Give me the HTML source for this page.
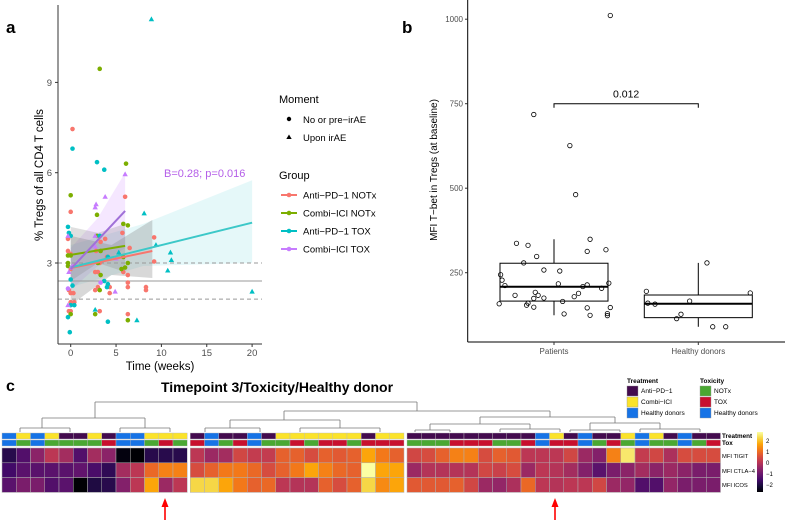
<!DOCTYPE html>
<html><head><meta charset="utf-8">
<style>
body{margin:0;background:#fff;}
svg{display:block;font-family:"Liberation Sans",Arial,sans-serif;}
</style></head>
<body>
<svg id="fig" width="785" height="520" viewBox="0 0 785 520"></svg>
<script>
// ---------- Panel a data ----------
const aGroups = ["Anti\u2212PD\u22121 NOTx","Combi\u2212ICI NOTx","Anti\u2212PD\u22121 TOX","Combi\u2212ICI TOX"];
const aColors = ["#F8766D","#7CAE00","#00BFC4","#C77CFF"];
const aXTicks = [0,5,10,15,20];
const aYTicks = [3,6,9];
const aRedPts = [[0.2,7.45],[0,4.7],[-0.3,3.8],[-0.3,3.4],[0,3.3],[0,2.8],[-0.2,2.1],[0,2.0],[0.3,2.0],[0,1.7],[0.4,1.7],[0,1.4],[-0.2,1.4],[2.8,3.4],[3.0,2.7],[2.7,2.7],[3.3,3.7],[3.8,3.8],[3.0,2.2],[2.7,2.1],[3.2,1.4],[4.0,3.2],[4.3,2.2],[4.3,2.0],[5.7,4.0],[6.0,5.2],[6.5,3.5],[6.3,2.6],[6.3,2.35],[6.3,2.2],[6.3,1.3],[5.8,2.7],[9.2,3.85],[9.2,3.05],[8.3,2.2],[8.3,2.1],[3.2,3.0]];
const aGreenPts = [[0,5.25],[0,3.25],[-0.3,3.25],[-0.3,2.9],[-0.3,3.0],[0,1.3],[3.2,9.45],[2.9,4.6],[2.9,3.9],[3.3,3.4],[3.0,3.0],[3.3,2.6],[3.2,2.1],[2.7,1.3],[5.8,4.3],[6.1,6.3],[6.3,4.25],[5.8,3.2],[5.6,2.8],[6.0,2.85],[6.3,3.0],[6.3,1.1]];
const aCyanPts = [[-0.3,4.2],[-0.2,4.0],[0,3.9],[0.2,6.8],[0,2.45],[0.2,2.25],[0,1.6],[0.4,1.6],[-0.3,1.2],[-0.1,0.7],[2.9,6.35],[3.7,6.1],[3.2,3.9],[4.1,3.2],[3.7,2.4],[4.1,2.3],[4.0,2.2],[4.1,1.05]];
const aCyanTri = [[8.9,11.1],[8.1,4.65],[9.4,3.6],[5.3,3.35],[11.0,3.35],[11.1,3.1],[10.7,2.75],[2.7,1.45],[7.3,1.1],[20,2.05]];
const aPurpleTri = [[6.0,5.95],[3.8,5.2],[2.8,4.95],[2.7,4.85],[2.7,3.9],[2.7,3.55],[5.0,3.15],[4.9,2.05],[-0.3,3.9],[-0.2,2.7],[0.2,2.9],[-0.3,1.6]];
const aPurplePts = [[-0.3,2.15],[0.1,2.85],[3.3,2.35]];
// regression lines [x0,y0,x1,y1]
const aFitRed = [0,2.83,9,3.4];
const aFitGreen = [0,3.27,6,3.57];
const aFitCyan = [0,2.85,20,4.34];
const aFitPurple = [0,2.8,6,4.73];
// bands: [x, lo, hi] triples
const aBandRed = [[0,1.6,3.9],[4.5,2.6,3.6],[9,2.5,4.43]];
const aBandGreen = [[0,2.4,4.2],[3,3.0,4.0],[6,2.7,4.3]];
const aBandCyan = [[0,2.2,3.6],[8,2.9,4.3],[20,3.0,5.75]];
const aBandPurple = [[0,2.1,3.5],[3,2.9,4.5],[6,3.5,6.0]];
const aHLines = [3.0,2.4,1.8];

// ---------- Panel b data ----------
const bCats = ["Patients","Healthy donors"];
const bYTicks = [250,500,750,1000];
const bBoxes = [[124,166,208.6,278,349],[90,117,158,184,279]];
const bPatVals = [1011,718,626,481,337,331,349,313,318,298,279,258,255,244,228,212,217,214,209,219,204,183,192,183,174,175,179,189,165,158,160,154,148,146,147,128,124,129,123];
const bPatJit = [0.39,-0.14,0.11,0.15,-0.26,-0.18,0.25,0.23,0.36,-0.12,-0.21,-0.07,0.04,-0.37,-0.36,-0.34,0.03,0.23,0.2,0.38,0.33,-0.27,-0.13,-0.11,-0.14,-0.07,0.14,0.17,0.06,-0.38,-0.18,-0.19,-0.14,0.23,0.39,0.07,0.25,0.37,0.37];
const bHDVals = [195,279,190,160,157,166,127,114,90,90];
const bHDJit = [-0.36,0.06,0.36,-0.35,-0.3,-0.06,-0.12,-0.15,0.1,0.19];
const bPValue = "0.012";

// ---------- Panel c data ----------
const cRows = ["MFI TIGIT","MFI CTLA\u22124","MFI ICOS"];
const cTIGIT = [-1.8,-1.3,-0.6,0,-0.3,-1.3,-0.3,-0.6,-2.4,-2.5,-1.8,-1.8,-1.8, 0,-0.4,-0.3,0.3,0.1,0.1,0.7,0.7,0.4,0.7,0.6,0.7,1.5,1,0.7, 0.3,0.4,0.7,1.1,1.1,0.4,0.7,0.6,0,0,0,0.3,-0.4,-0.7,1.1,2.2,0.1,0.3,-0.2,0.4,0.4,0.4];
const cCTLA4 = [-1.5,-1.2,-1.2,-1.2,-1.2,-1.1,-1.4,-1.7,-0.3,0,0.8,1.1,1.1, 0.4,0.7,1,1,0.8,0.4,0.7,1,1.5,1.1,0.8,0.7,2.8,1.5,1.5, -0.4,-0.1,-0.1,-0.1,-0.1,0.3,0.2,0.4,-0.4,0,-0.1,-0.3,-0.7,-1.2,-0.8,-0.6,-0.3,-0.6,-0.4,-0.6,-0.8,-0.8];
const cICOS = [-1.2,-0.8,-0.8,-1.3,-1.2,-2.5,-1.9,-1.8,-0.7,0,1.5,-0.4,0, 2,2,1.5,1,0.7,0.8,0,-0.1,-0.1,0.7,0.4,0.7,2,1.2,1.5, 0.6,0.6,0.6,0.7,0.3,-0.4,-0.5,-0.2,0.8,0,-0.1,0,0,0.3,-0.4,-0.5,-1.3,-1.3,-0.5,-0.8,-0.8,-0.8];
const cTreatment = "HCHCPPCPHHCCC"+"PHPPHPCCCCCCPCC"+"PPPPPPPPPHCPHPPCHCPHPP";
const cTox = "HNHNNNNTHHNTN"+"THNTHNNTNTTNTTT"+"NNNTTTNNTHTTHNTNHNNHNT";
const cBlockSizes = [13,15,22];
const cColorTicks = [2,1,0,-1,-2];

// ---------- helpers ----------
const NS="http://www.w3.org/2000/svg";
const svg=document.getElementById('fig');
function mk(tag,attrs,parent){const e=document.createElementNS(NS,tag);for(const k in attrs)e.setAttribute(k,attrs[k]);(parent||svg).appendChild(e);return e;}
function txt(s,attrs,parent){const e=mk('text',attrs,parent);e.textContent=s;return e;}

// ========== Panel a ==========
const ax=v=>70.7+v*9.07, ay=v=>263-(v-3)*30.1;
const ga=mk('g',{});


let t=txt('a',{x:6,y:33,'font-size':17,'font-weight':'bold'},ga);

function band(b,col,op,name){
  let pts=b.map(p=>ax(p[0])+','+ay(p[2])).concat(b.slice().reverse().map(p=>ax(p[0])+','+ay(p[1])));
  const e=mk('polygon',{points:pts.join(' '),fill:col,'fill-opacity':op},ga);
  
}
band(aBandCyan,'#00BFC4',0.1,'band-anti-pd1-tox');
band(aBandPurple,'#C77CFF',0.18,'band-combi-tox');
band(aBandRed,'#7f7f7f',0.3,'band-anti-pd1-notx');
band(aBandGreen,'#7f7f7f',0.25,'band-combi-notx');
aHLines.forEach((v,i)=>{
  const e=mk('line',{x1:58,x2:262,y1:ay(v),y2:ay(v),stroke:'#999','stroke-width':1,'stroke-dasharray':i===1?'':'4,3'},ga);
  
  
});
function pts(arr,col,shape,name){
  arr.forEach(p=>{
    let e;
    const x=ax(p[0]),y=ay(p[1]);
    if(shape==='c') e=mk('circle',{cx:x,cy:y,r:2.3,fill:col},ga);
    else e=mk('polygon',{points:`${x},${y-2.8} ${x-2.7},${y+2} ${x+2.7},${y+2}`,fill:col},ga);
    
    
  });
}
pts(aRedPts,aColors[0],'c','point-anti-pd1-notx');
pts(aGreenPts,aColors[1],'c','point-combi-notx');
pts(aCyanPts,aColors[2],'c','point-anti-pd1-tox');
pts(aCyanTri,aColors[2],'t','point-anti-pd1-tox-irae');
pts(aPurplePts,aColors[3],'c','point-combi-tox');
pts(aPurpleTri,aColors[3],'t','point-combi-tox-irae');
[[aFitRed,aColors[0],'fit-anti-pd1-notx'],[aFitGreen,aColors[1],'fit-combi-notx'],[aFitCyan,'#3cc8c8','fit-anti-pd1-tox'],[aFitPurple,'#a070d8','fit-combi-tox']].forEach(f=>{
  const d=f[0];
  const e=mk('line',{x1:ax(d[0]),y1:ay(d[1]),x2:ax(d[2]),y2:ay(d[3]),stroke:f[1],'stroke-width':2},ga);
  
});
let e=mk('line',{x1:58,y1:5,x2:58,y2:344,stroke:'#333','stroke-width':1},ga);

e=mk('line',{x1:58,y1:344,x2:262,y2:344,stroke:'#333','stroke-width':1},ga);

aYTicks.forEach(v=>{
  mk('line',{x1:55,x2:58,y1:ay(v),y2:ay(v),stroke:'#333'},ga);
  const l=txt(String(v),{x:52,y:ay(v)+3.5,'font-size':9.5,fill:'#4d4d4d','text-anchor':'end'},ga);
  
});
aXTicks.forEach(v=>{
  mk('line',{x1:ax(v),x2:ax(v),y1:344,y2:347,stroke:'#333'},ga);
  const l=txt(String(v),{x:ax(v),y:356,'font-size':9.5,fill:'#4d4d4d','text-anchor':'middle'},ga);
  
});
t=txt('Time (weeks)',{x:160,y:370,'font-size':11.5,'text-anchor':'middle'},ga);

t=txt('% Tregs of all CD4 T cells',{x:0,y:0,'font-size':11.5,'text-anchor':'middle',transform:'translate(43,175) rotate(-90)'},ga);

t=txt('B=0.28; p=0.016',{x:164,y:177,'font-size':11,fill:'#B45EE8'},ga);

t=txt('Moment',{x:279,y:103,'font-size':11},ga);
mk('circle',{cx:289,cy:119,r:2.2,fill:'#000'},ga);
t=txt('No or pre\u2212irAE',{x:303,y:123,'font-size':9.5},ga);
mk('polygon',{points:'289,134.5 286.3,139 291.7,139',fill:'#000'},ga);
t=txt('Upon irAE',{x:303,y:141,'font-size':9.5},ga);
t=txt('Group',{x:279,y:179,'font-size':11},ga);
aGroups.forEach((g,i)=>{
  const y=195+i*18;
  mk('line',{x1:281,x2:297,y1:y,y2:y,stroke:aColors[i],'stroke-width':2},ga);
  mk('circle',{cx:289,cy:y,r:2.3,fill:aColors[i]},ga);
  const l=txt(g,{x:303,y:y+3.5,'font-size':9.5},ga);
  
});

// ========== Panel b ==========
const bx=i=>554+i*144.3, by=v=>272.7-(v-250)*0.338;
const gb=mk('g',{});


t=txt('b',{x:402,y:33,'font-size':17,'font-weight':'bold'},gb);

bBoxes.forEach((b,i)=>{
  const cx=bx(i),hw=54;
  const g=mk('g',{},gb);
  
  
  mk('line',{x1:cx,x2:cx,y1:by(b[4]),y2:by(b[3]),stroke:'#000','stroke-width':1},g);
  mk('line',{x1:cx,x2:cx,y1:by(b[1]),y2:by(b[0]),stroke:'#000','stroke-width':1},g);
  mk('rect',{x:cx-hw,y:by(b[3]),width:2*hw,height:by(b[1])-by(b[3]),fill:'none',stroke:'#000','stroke-width':1},g);
  mk('line',{x1:cx-hw,x2:cx+hw,y1:by(b[2]),y2:by(b[2]),stroke:'#000','stroke-width':2},g);
});
function bpts(vals,jit,ci,name){
  vals.forEach((v,k)=>{
    const c=mk('circle',{cx:bx(ci)+jit[k]*144.3,cy:by(v),r:2.2,fill:'none',stroke:'#000','stroke-width':0.8},gb);
    
  });
}
bpts(bPatVals,bPatJit,0,'point-patient');
bpts(bHDVals,bHDJit,1,'point-healthy-donor');
e=mk('path',{d:`M${bx(0)},${by(750)+4} V${by(750)} H${bx(1)} V${by(750)+4}`,fill:'none',stroke:'#000','stroke-width':1},gb);

t=txt(bPValue,{x:(bx(0)+bx(1))/2,y:by(750)-6,'font-size':10.5,'text-anchor':'middle'},gb);

e=mk('line',{x1:467.7,y1:0,x2:467.7,y2:342,stroke:'#000','stroke-width':1},gb);

e=mk('line',{x1:467.7,y1:342,x2:785,y2:342,stroke:'#000','stroke-width':1},gb);

bYTicks.forEach(v=>{
  mk('line',{x1:465,x2:467.7,y1:by(v),y2:by(v),stroke:'#333'},gb);
  const l=txt(String(v),{x:463,y:by(v)+3,'font-size':8,fill:'#4d4d4d','text-anchor':'end'},gb);
  
});
bCats.forEach((c,i)=>{
  mk('line',{x1:bx(i),x2:bx(i),y1:342,y2:345,stroke:'#333'},gb);
  const l=txt(c,{x:bx(i),y:354,'font-size':8,fill:'#4d4d4d','text-anchor':'middle'},gb);
  
});
t=txt('MFI T\u2212bet in Tregs (at baseline)',{x:0,y:0,'font-size':10,'text-anchor':'middle',transform:'translate(437,170) rotate(-90)'},gb);


// ========== Panel c ==========
const gc=mk('g',{});


t=txt('c',{x:6,y:391,'font-size':16,'font-weight':'bold'},gc);

t=txt('Timepoint 3/Toxicity/Healthy donor',{x:277,y:392,'font-size':14,'font-weight':'bold','text-anchor':'middle'},gc);

const inf=['#000004','#160b39','#420a68','#6a176e','#932667','#bc3754','#dd513a','#f37819','#fca50a','#f6d746','#fcffa4'];
function hex(h){return [1,3,5].map(i=>parseInt(h.substr(i,2),16));}
function cmap(v){let tt=(v+2.5)/5.0;tt=Math.max(0,Math.min(1,tt));const s=tt*10,i=Math.min(9,Math.floor(s)),f=s-i;const a=hex(inf[i]),b=hex(inf[i+1]);return 'rgb('+a.map((x,k)=>Math.round(x+(b[k]-x)*f)).join(',')+')';}
const colW=14.25;
function cx(i){let blk=i<cBlockSizes[0]?0:(i<cBlockSizes[0]+cBlockSizes[1]?1:2);return 2+i*colW+blk*3;}
const trtCol={P:'#430b4e',C:'#fbe32a',H:'#1673e6'};
const toxCol={N:'#4aa832',T:'#c8102e',H:'#1673e6'};
const nCols=cTIGIT.length;
for(let i=0;i<nCols;i++){
  let r=mk('rect',{x:cx(i),y:433,width:colW,height:6,fill:trtCol[cTreatment[i]],stroke:'#bbb','stroke-width':0.4},gc);
  
  r=mk('rect',{x:cx(i),y:440,width:colW,height:6,fill:toxCol[cTox[i]],stroke:'#bbb','stroke-width':0.4},gc);
  
  [cTIGIT,cCTLA4,cICOS].forEach((arr,j)=>{
    const c=mk('rect',{x:cx(i),y:448+j*14.8,width:colW,height:14.8,fill:cmap(arr[i]),stroke:'#b0b0b0','stroke-width':0.5},gc);
    
  });
}
const dend=mk('path',{fill:'none',stroke:'#777','stroke-width':0.8,d:
 'M95,402 H417 M95,402 V418 M42,418 H145 M42,418 V428 M145,418 V428 M20,428 H70 M120,428 H170 '+
 'M417,402 V411 M284,411 H550 M284,411 V420 M550,411 V417 M230,420 H340 M230,420 V428 M340,420 V428 M205,428 H260 M300,428 H380 '+
 'M480,417 H615 M480,417 V424 M615,417 V423 M430,424 H530 M590,423 H660 M430,424 V430 M530,424 V429 M590,423 V430 M660,423 V429 M415,430 H450 M500,429 H560 M570,430 H620 M640,429 H700 '+
 'M20,428 V432 M70,428 V432 M120,428 V432 M170,428 V432 M205,428 V432 M260,428 V432 M300,428 V432 M380,428 V432 M415,430 V432 M450,430 V432 M500,429 V432 M560,429 V432 M570,430 V432 M620,430 V432 M640,429 V432 M700,429 V432'},gc);

[['Treatment',438,true],['Tox',445,true],['MFI TIGIT',458,false],['MFI CTLA\u22124',473,false],['MFI ICOS',487,false]].forEach(r=>{
  const l=txt(r[0],{x:722,y:r[1],'font-size':r[2]?6.3:5.8,'font-weight':r[2]?'bold':'normal'},gc);
  
});
const defs=mk('defs',{});
const lg=mk('linearGradient',{id:'cb',x1:0,y1:1,x2:0,y2:0},defs);
inf.forEach((c,i)=>mk('stop',{offset:(i*10)+'%','stop-color':c},lg));
e=mk('rect',{x:757,y:432,width:6,height:60,fill:'url(#cb)'},gc);

cColorTicks.forEach(v=>{
  const y=463-v*11;
  const l=txt(v<0?'\u2212'+(-v):String(v),{x:766,y:y+2,'font-size':6},gc);
  
});
t=txt('Treatment',{x:627,y:383,'font-size':6.5,'font-weight':'bold'},gc);
[['Anti\u2212PD\u22121','P'],['Combi\u2212ICI','C'],['Healthy donors','H']].forEach((it,i)=>{
  mk('rect',{x:627,y:386+i*11,width:11,height:10,fill:trtCol[it[1]],stroke:'#999','stroke-width':0.4},gc);
  const l=txt(it[0],{x:641,y:393+i*11,'font-size':6.5},gc);
  
});
t=txt('Toxicity',{x:700,y:383,'font-size':6.5,'font-weight':'bold'},gc);
[['NOTx','N'],['TOX','T'],['Healthy donors','H']].forEach((it,i)=>{
  mk('rect',{x:700,y:386+i*11,width:11,height:10,fill:toxCol[it[1]],stroke:'#999','stroke-width':0.4},gc);
  const l=txt(it[0],{x:714,y:393+i*11,'font-size':6.5},gc);
  
});
[165,555].forEach(x=>{
  const a=mk('g',{},gc);
  
  mk('line',{x1:x,x2:x,y1:520,y2:505,stroke:'#ff0000','stroke-width':1.6},a);
  mk('polygon',{points:`${x},498 ${x-3.5},507 ${x+3.5},507`,fill:'#ff0000'},a);
});
</script>
</body></html>
